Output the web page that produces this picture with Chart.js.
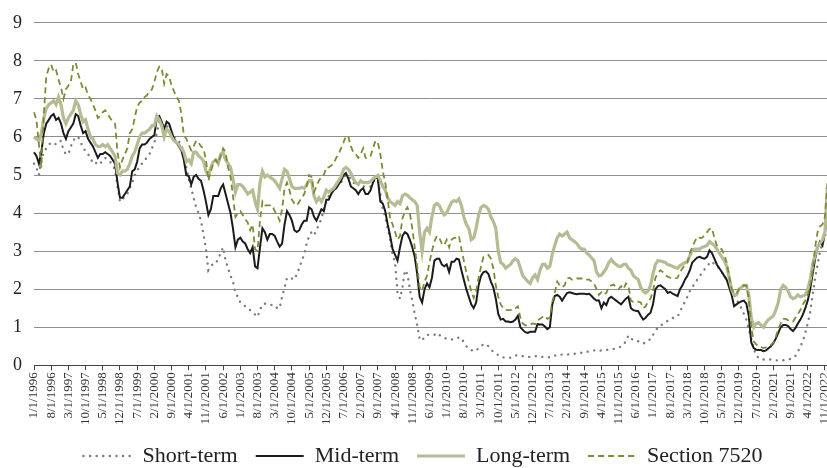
<!DOCTYPE html>
<html>
<head>
<meta charset="utf-8">
<script src="https://cdn.jsdelivr.net/npm/chart.js"></script>
<style>
    html, body { margin: 0; padding: 0; background: #fff; overflow: hidden; }
    #wrap { position: relative; width: 845px; height: 468px; }
</style>
</head>
<body>
<div id="wrap"><canvas id="chartRates"></canvas></div>
<script>
// monthly rates, Jan 1996 .. Dec 2022 (one row per year)
const shortTerm = [
    5.3, 5.2, 5.0, 5.4, 5.6, 5.7, 5.8, 5.85, 5.85, 5.8, 5.85, 5.9,
    5.65, 5.55, 5.55, 5.75, 5.9, 6.0, 6.0, 5.85, 5.75, 5.6, 5.55, 5.45,
    5.3, 5.3, 5.35, 5.3, 5.4, 5.45, 5.4, 5.35, 5.25, 5.15, 4.7, 4.3,
    4.35, 4.45, 4.5, 4.65, 4.8, 5.0, 5.1, 5.25, 5.3, 5.4, 5.45, 5.55,
    5.7, 5.85, 6.1, 6.4, 6.4, 6.25, 6.3, 6.2, 6.1, 6.0, 5.95, 5.88,
    5.8, 5.55, 5.2, 4.9, 4.65, 4.4, 4.15, 4.0, 3.8, 3.45, 3.05, 2.5,
    2.6, 2.68, 2.68, 2.8, 2.95, 3.1, 2.75, 2.55, 2.35, 2.2, 1.9, 1.8,
    1.65, 1.6, 1.55, 1.5, 1.45, 1.4, 1.33, 1.27, 1.45, 1.6, 1.62, 1.62,
    1.6, 1.58, 1.58, 1.5, 1.5, 1.8, 2.05, 2.3, 2.3, 2.28, 2.25, 2.4,
    2.55, 2.75, 2.9, 3.2, 3.4, 3.5, 3.42, 3.55, 3.7, 3.85, 4.1, 4.3,
    4.45, 4.55, 4.6, 4.7, 4.75, 4.8, 4.95, 5.0, 4.97, 4.9, 4.8, 4.75,
    4.8, 4.8, 4.7, 4.7, 4.7, 4.7, 4.8, 4.9, 4.85, 4.5, 4.1, 3.9,
    3.6, 3.3, 2.9, 2.7, 1.9, 1.75, 2.05, 2.5, 2.4, 2.0, 1.7, 1.35,
    1.05, 0.68, 0.65, 0.75, 0.8, 0.8, 0.8, 0.8, 0.85, 0.8, 0.75, 0.72,
    0.7, 0.68, 0.68, 0.68, 0.7, 0.73, 0.72, 0.6, 0.5, 0.45, 0.4, 0.37,
    0.38, 0.45, 0.52, 0.54, 0.56, 0.5, 0.42, 0.35, 0.3, 0.27, 0.22, 0.21,
    0.2, 0.2, 0.2, 0.23, 0.26, 0.26, 0.24, 0.24, 0.23, 0.22, 0.22, 0.23,
    0.24, 0.24, 0.23, 0.22, 0.22, 0.21, 0.21, 0.22, 0.25, 0.28, 0.28, 0.28,
    0.28, 0.28, 0.29, 0.3, 0.3, 0.31, 0.32, 0.33, 0.34, 0.35, 0.37, 0.38,
    0.39, 0.4, 0.38, 0.39, 0.4, 0.4, 0.41, 0.42, 0.43, 0.44, 0.46, 0.5,
    0.55, 0.63, 0.78, 0.7, 0.67, 0.67, 0.63, 0.6, 0.57, 0.6, 0.66, 0.68,
    0.8, 0.9, 1.0, 1.04, 1.08, 1.12, 1.17, 1.22, 1.24, 1.26, 1.28, 1.4,
    1.55, 1.67, 1.8, 1.95, 2.05, 2.15, 2.25, 2.35, 2.42, 2.52, 2.6, 2.68,
    2.73, 2.65, 2.6, 2.55, 2.45, 2.35, 2.25, 2.1, 1.95, 1.85, 1.75, 1.6,
    1.5, 1.35, 1.2, 0.95, 0.7, 0.45, 0.25, 0.2, 0.16, 0.15, 0.15, 0.15,
    0.15, 0.14, 0.13, 0.13, 0.13, 0.13, 0.14, 0.15, 0.17, 0.19, 0.25, 0.35,
    0.5, 0.63, 0.85, 1.1, 1.4, 1.85, 2.3, 2.65, 3.0, 3.2, 3.4, 3.6
];

const midTerm = [
    5.6, 5.5, 5.3, 5.6, 6.1, 6.35, 6.45, 6.55, 6.6, 6.45, 6.5, 6.35,
    6.1, 5.95, 6.15, 6.25, 6.35, 6.6, 6.55, 6.3, 6.1, 6.15, 5.95, 5.85,
    5.75, 5.6, 5.45, 5.55, 5.55, 5.6, 5.55, 5.5, 5.4, 5.3, 4.8, 4.4,
    4.4, 4.5, 4.6, 4.7, 5.1, 5.15, 5.35, 5.7, 5.8, 5.8, 5.85, 5.95,
    6.0, 6.05, 6.5, 6.55, 6.4, 6.2, 6.4, 6.35, 6.15, 5.95, 5.85, 5.75,
    5.65, 5.4, 5.0, 4.97, 4.75, 4.95, 5.0, 4.9, 4.85, 4.6, 4.3, 3.95,
    4.1, 4.45, 4.45, 4.45, 4.65, 4.75, 4.5, 4.25, 4.0, 3.6, 3.1, 3.3,
    3.35, 3.25, 3.2, 3.05, 2.95, 3.1, 2.6, 2.55, 3.1, 3.6, 3.5, 3.3,
    3.45, 3.45, 3.4, 3.25, 3.12, 3.2, 3.7, 4.05, 3.95, 3.8, 3.55, 3.5,
    3.55, 3.7, 3.8, 3.8, 4.15, 4.1, 3.9, 3.8, 3.95, 4.1, 4.05, 4.35,
    4.35, 4.5, 4.6, 4.65, 4.75, 4.85, 5.0, 5.05, 4.9, 4.7, 4.65, 4.6,
    4.5, 4.6, 4.65, 4.5, 4.5, 4.6, 4.8, 4.95, 4.9, 4.3, 4.25, 4.05,
    3.7, 3.4, 3.05, 2.9, 2.75, 3.1, 3.4, 3.5, 3.45, 3.3, 3.1, 2.85,
    2.4, 1.8, 1.65, 2.0, 2.15, 2.05, 2.3, 2.75, 2.8, 2.8, 2.65, 2.6,
    2.65, 2.45, 2.72, 2.72, 2.8, 2.78, 2.5, 2.25, 2.0, 1.8, 1.6, 1.5,
    1.65, 2.1, 2.35, 2.45, 2.47, 2.4, 2.2, 2.05, 1.75, 1.35, 1.2, 1.22,
    1.15, 1.15, 1.13, 1.15, 1.2, 1.3, 1.0, 0.93, 0.87, 0.85, 0.88, 0.88,
    0.88, 1.08, 1.07, 1.07, 1.02, 0.95, 1.0, 1.6, 1.82, 1.85, 1.8, 1.7,
    1.8, 1.9, 1.92, 1.9, 1.88, 1.87, 1.88, 1.88, 1.88, 1.87, 1.88, 1.82,
    1.75, 1.7, 1.7, 1.5, 1.65, 1.58, 1.75, 1.8, 1.75, 1.7, 1.65, 1.6,
    1.68, 1.75, 1.8, 1.5, 1.45, 1.43, 1.42, 1.3, 1.2, 1.25, 1.33, 1.38,
    1.6, 2.0, 2.08, 2.1, 2.05, 2.0, 1.9, 1.93, 1.88, 1.85, 1.82, 2.0,
    2.1, 2.25, 2.35, 2.5, 2.7, 2.77, 2.83, 2.85, 2.82, 2.8, 2.85, 3.02,
    2.95, 2.8, 2.65, 2.55, 2.45, 2.35, 2.25, 2.05, 1.85, 1.55, 1.6, 1.65,
    1.68, 1.7, 1.62, 1.3, 0.6, 0.45, 0.41, 0.4, 0.4, 0.37, 0.39, 0.45,
    0.5, 0.58, 0.7, 0.85, 1.0, 1.06, 1.06, 1.03, 0.95, 0.9, 0.98, 1.1,
    1.2, 1.33, 1.5, 1.7, 2.0, 2.4, 2.8, 3.1, 3.25, 3.15, 3.5, 4.1
];

const longTerm = [
    6.0, 5.95, 5.9, 6.1, 6.5, 6.75, 6.85, 6.9, 6.95, 6.85, 7.05, 6.85,
    6.5, 6.35, 6.5, 6.6, 6.7, 6.95, 6.85, 6.6, 6.4, 6.45, 6.2, 6.0,
    5.95, 5.8, 5.75, 5.75, 5.8, 5.75, 5.8, 5.7, 5.6, 5.5, 5.05, 5.0,
    5.1, 5.1, 5.15, 5.3, 5.5, 5.6, 5.8, 6.0, 6.1, 6.1, 6.15, 6.2,
    6.3, 6.3, 6.55, 6.45, 6.3, 6.0, 6.2, 6.15, 6.0, 5.9, 5.85, 5.8,
    5.7, 5.6, 5.35, 5.4, 5.3, 5.6, 5.6, 5.5, 5.45, 5.37, 5.1, 4.99,
    5.2, 5.35, 5.4, 5.3, 5.55, 5.6, 5.4, 5.3, 5.2, 4.9, 4.55, 4.75,
    4.75, 4.7, 4.6, 4.5, 4.55, 4.6, 4.3, 4.1, 4.8, 5.1, 4.95, 5.0,
    4.95, 4.9, 4.85, 4.75, 4.65, 4.9, 5.15, 5.1, 4.9, 4.7, 4.65, 4.65,
    4.65, 4.68, 4.65, 4.75, 4.85, 4.85, 4.45, 4.3, 4.4, 4.3, 4.42, 4.6,
    4.55, 4.6, 4.65, 4.75, 4.85, 4.95, 5.15, 5.2, 5.15, 5.05, 4.9, 4.8,
    4.75, 4.85, 4.8, 4.8, 4.8, 4.83, 4.9, 4.95, 4.99, 4.85, 4.7, 4.6,
    4.4, 4.3, 4.25, 4.2, 4.3, 4.25, 4.45, 4.5, 4.47, 4.4, 4.35, 4.3,
    4.2, 3.5, 3.0, 3.5, 3.6, 3.5, 3.9, 4.2, 4.25, 4.2, 4.05, 3.95,
    4.0, 4.15, 4.28, 4.33, 4.3, 4.37, 4.2, 3.9, 3.7, 3.6, 3.3, 3.35,
    3.6, 3.95, 4.15, 4.2, 4.17, 4.1, 3.9, 3.78, 3.6, 3.0, 2.7, 2.65,
    2.55, 2.6, 2.65, 2.75, 2.8, 2.75, 2.55, 2.35, 2.28, 2.2, 2.15, 2.3,
    2.37, 2.25, 2.5, 2.65, 2.65, 2.55, 2.6, 2.92, 3.15, 3.35, 3.45, 3.4,
    3.45, 3.5, 3.35, 3.3, 3.25, 3.2, 3.1, 3.05, 3.05, 2.95, 2.9, 2.82,
    2.75, 2.45, 2.35, 2.37, 2.45, 2.55, 2.7, 2.78, 2.7, 2.65, 2.6, 2.6,
    2.65, 2.65, 2.55, 2.5, 2.35, 2.3, 2.25, 2.05, 1.95, 1.9, 1.95, 2.1,
    2.4, 2.65, 2.75, 2.74, 2.72, 2.7, 2.65, 2.63, 2.6, 2.57, 2.55, 2.62,
    2.66, 2.7, 2.72, 2.88, 3.03, 3.05, 3.05, 3.05, 3.1, 3.12, 3.15, 3.25,
    3.2, 3.15, 3.05, 2.95, 2.85, 2.75, 2.6, 2.3, 2.0, 1.85, 1.85, 2.0,
    2.05, 2.1, 2.1, 1.85, 1.25, 1.0, 1.1, 1.12, 1.05, 1.0, 1.12, 1.2,
    1.25, 1.3, 1.45, 1.65, 2.0, 2.1, 2.05, 1.95, 1.8, 1.75, 1.78, 1.85,
    1.8, 1.82, 1.85, 2.0, 2.25, 2.65, 2.9, 3.1, 3.2, 3.3, 3.5, 4.7
];

const section7520 = [
    6.65, 6.45, 5.8, 5.2, 6.6, 7.6, 7.8, 7.9, 7.7, 7.75, 7.5, 7.3,
    7.0, 7.25, 7.35, 7.45, 7.9, 7.95, 7.65, 7.45, 7.25, 7.3, 7.1, 7.0,
    6.85, 6.7, 6.5, 6.55, 6.65, 6.7, 6.6, 6.5, 6.4, 6.35, 5.6, 5.2,
    5.4, 5.55, 5.7, 6.1, 6.2, 6.5, 6.8, 6.9, 6.95, 7.05, 7.1, 7.2,
    7.25, 7.45, 7.7, 7.85, 7.8, 7.4, 7.65, 7.6, 7.35, 7.2, 7.05, 6.95,
    6.6, 6.05, 5.95, 5.8, 5.65, 5.75, 5.9, 5.85, 5.75, 5.7, 5.4, 4.85,
    5.1, 5.3, 5.4, 5.3, 5.5, 5.7, 5.6, 5.2, 4.95, 4.45, 3.9, 4.0,
    4.05, 3.95, 3.85, 3.75, 3.55, 3.7, 3.05, 3.0, 3.8, 4.3, 4.2, 4.2,
    4.2, 4.2, 4.05, 3.95, 3.8, 4.1, 4.65, 4.8, 4.6, 4.35, 4.25, 4.2,
    4.3, 4.4, 4.5, 4.7, 5.0, 4.95, 4.55, 4.7, 4.85, 4.95, 5.0, 5.2,
    5.2, 5.25, 5.3, 5.45, 5.55, 5.7, 5.85, 6.03, 6.0, 5.75, 5.6, 5.55,
    5.45, 5.55, 5.7, 5.45, 5.45, 5.5, 5.7, 5.9, 5.85, 5.55, 5.1, 4.8,
    4.35, 3.85, 3.7, 3.5, 3.3, 3.4, 3.85, 4.05, 4.15, 4.0, 3.6, 3.1,
    2.6, 2.05, 1.95, 2.2, 2.35, 2.7, 3.0, 3.25, 3.4, 3.35, 3.2, 3.15,
    3.3, 3.1, 3.3, 3.35, 3.35, 3.4, 3.05, 2.75, 2.45, 2.2, 1.95, 1.77,
    1.95, 2.3, 2.6, 2.85, 2.88, 2.9, 2.8, 2.55, 2.1, 1.8, 1.6, 1.5,
    1.45, 1.45, 1.45, 1.5, 1.5, 1.55, 1.25, 1.1, 1.05, 1.05, 1.07, 1.1,
    1.08, 1.18, 1.22, 1.27, 1.3, 1.22, 1.25, 1.67, 1.9, 2.2, 2.1, 2.05,
    2.1, 2.28, 2.3, 2.25, 2.25, 2.28, 2.28, 2.28, 2.25, 2.25, 2.25, 2.2,
    2.15, 2.0, 1.85, 1.92, 1.85, 1.9, 2.05, 2.1, 2.12, 2.05, 2.0, 2.08,
    2.0, 2.15, 2.1, 1.7, 1.67, 1.67, 1.67, 1.65, 1.5, 1.55, 1.67, 1.75,
    1.95, 2.3, 2.42, 2.5, 2.45, 2.37, 2.33, 2.3, 2.28, 2.28, 2.3, 2.45,
    2.55, 2.63, 2.7, 2.95, 3.1, 3.25, 3.37, 3.35, 3.35, 3.42, 3.5, 3.58,
    3.6, 3.35, 3.15, 3.08, 3.05, 2.9, 2.7, 2.35, 2.0, 1.9, 1.88, 2.0,
    2.08, 2.1, 2.1, 1.75, 1.0, 0.63, 0.55, 0.5, 0.48, 0.45, 0.47, 0.5,
    0.53, 0.6, 0.75, 0.95, 1.1, 1.22, 1.22, 1.18, 1.15, 1.15, 1.25, 1.35,
    1.45, 1.6, 1.7, 1.85, 2.1, 2.5, 3.1, 3.5, 3.65, 3.7, 3.9, 4.8
];

const firstYear = 1996;
const tickEvery = 7;   // a date label every 7 months
const yTicks = [0, 9];

// category labels m/1/yyyy
const monthLabels = [];
for (let i = 0; i < shortTerm.length; i++) {
    monthLabels.push(((i % 12) + 1) + "/1/" + (firstYear + Math.floor(i / 12)));
}

const serif = "'Liberation Serif', 'Times New Roman', serif";

let chartRates = document.getElementById("chartRates").getContext("2d");

let chart = new Chart(chartRates, {
    type: "line",
    data: {
        labels: monthLabels,
        datasets: [
            {
                label: "Short-term",
                data: shortTerm,
                borderColor: "#7b7b7b",
                borderWidth: 2.4,
                borderDash: [0.1, 6.5],
                borderCapStyle: "round",
                order: 4
            },
            {
                label: "Mid-term",
                data: midTerm,
                borderColor: "#1b1b1b",
                borderWidth: 2,
                order: 3
            },
            {
                label: "Long-term",
                data: longTerm,
                borderColor: "#b7bb93",
                borderWidth: 3.2,
                order: 2
            },
            {
                label: "Section 7520",
                data: section7520,
                borderColor: "#808a33",
                borderWidth: 1.8,
                borderDash: [6, 4],
                order: 1
            }
        ]
    },
    options: {
        responsive: true,
        maintainAspectRatio: false,
        animation: false,
        elements: {
            point: { radius: 0, hoverRadius: 0 },
            line: { tension: 0 }
        },
        layout: {
            padding: { left: 1, right: 0, top: 9, bottom: -9 }
        },
        plugins: {
            tooltip: { enabled: false },
            legend: {
                position: "bottom",
                labels: {
                    usePointStyle: true,
                    pointStyleWidth: 48,
                    padding: 18,
                    color: "#222",
                    font: { family: serif, size: 22 },
                    generateLabels: (c) => c.data.datasets.map((ds, i) => ({
                        text: ds.label,
                        strokeStyle: ds.borderColor,
                        fillStyle: ds.borderColor,
                        lineWidth: ds.borderWidth,
                        lineDash: ds.borderDash || [],
                        lineCap: ds.borderCapStyle || "butt",
                        pointStyle: "line",
                        fontColor: "#222",
                        hidden: false,
                        datasetIndex: i
                    }))
                }
            }
        },
        scales: {
            x: {
                grid: {
                    drawOnChartArea: false,
                    drawTicks: true,
                    tickLength: 5,
                    color: (ctx) => ctx.index % tickEvery === 0 ? "#444" : "rgba(0,0,0,0)"
                },
                border: { display: true, color: "#444", width: 1 },
                ticks: {
                    autoSkip: false,
                    minRotation: 90,
                    maxRotation: 90,
                    padding: 2,
                    color: "#333",
                    font: { family: serif, size: 13 },
                    callback: function (val, i) {
                        return i % tickEvery === 0 ? this.getLabelForValue(val) : "";
                    }
                }
            },
            y: {
                min: yTicks[0],
                max: yTicks[1],
                grid: { color: "#8e8e8e", lineWidth: 1, drawTicks: false },
                border: { display: false },
                ticks: {
                    stepSize: 1,
                    padding: 12,
                    color: "#222",
                    font: { family: serif, size: 18 }
                }
            }
        }
    }
});
</script>
</body>
</html>
